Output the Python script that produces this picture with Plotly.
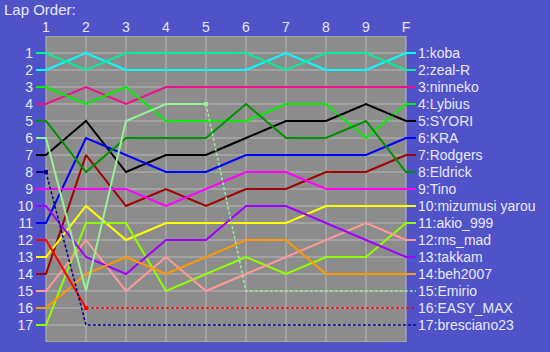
import plotly.graph_objects as go

laps = ["1", "2", "3", "4", "5", "6", "7", "8", "9", "F"]
drivers = ["koba", "zeal-R", "ninneko", "Lybius", "SYORI", "KRA", "Rodgers", "Eldrick",
           "Tino", "mizumusi yarou", "akio_999", "ms_mad", "takkam", "beh2007",
           "Emirio", "EASY_MAX", "bresciano23"]
colors = ["#00FFFF", "#00F0A0", "#F0108C", "#00F000", "#000000", "#0000FF", "#A00000",
          "#009000", "#FF00FF", "#FFFF00", "#90FF00", "#FF9A9A", "#A000FF", "#FF9900",
          "#98F098", "#FF0000", "#000090"]
# positions per lap (retired drivers have fewer completed laps)
positions = [
    [2, 1, 2, 2, 2, 2, 1, 2, 2, 1],
    [1, 2, 1, 1, 1, 1, 2, 1, 1, 2],
    [4, 3, 4, 3, 3, 3, 3, 3, 3, 3],
    [3, 4, 3, 5, 5, 5, 4, 4, 6, 4],
    [7, 5, 8, 7, 7, 6, 5, 5, 4, 5],
    [11, 6, 7, 8, 8, 7, 7, 7, 7, 6],
    [14, 7, 10, 9, 10, 9, 9, 8, 8, 7],
    [5, 8, 6, 6, 6, 4, 6, 6, 5, 8],
    [9, 9, 9, 10, 9, 8, 8, 9, 9, 9],
    [13, 10, 12, 11, 11, 11, 11, 10, 10, 10],
    [17, 11, 11, 15, 14, 13, 14, 13, 13, 11],
    [15, 12, 15, 13, 15, 14, 13, 12, 11, 12],
    [10, 13, 14, 12, 12, 10, 10, 11, 12, 13],
    [16, 14, 13, 14, 13, 12, 12, 14, 14, 14],
    [6, 15, 5, 4, 4],
    [12, 16],
    [8],
]
final_pos = list(range(1, 18))

BG = "#5052C8"
PLOT = "#8C8C8C"
GRID = "#B8B8B8"
TXT = "#E8E8FF"
FONT = "Liberation Sans, Arial, sans-serif"

n = len(laps)
lap_x = list(range(1, n + 1))
stub = 0.25

fig = go.Figure()

# plot background and grid (only over the lap area)
shapes = [dict(type="rect", xref="x", yref="y", x0=1, x1=n, y0=0, y1=len(drivers) + 1,
               fillcolor=PLOT, line=dict(color=GRID, width=1), layer="below")]
for r in final_pos:
    shapes.append(dict(type="line", xref="x", yref="y", x0=1, x1=n, y0=r, y1=r,
                       line=dict(color=GRID, width=1), layer="below"))
for c in lap_x[1:-1]:
    shapes.append(dict(type="line", xref="x", yref="y", x0=c, x1=c, y0=0, y1=len(drivers) + 1,
                       line=dict(color=GRID, width=1), layer="below"))

for i, name in enumerate(drivers):
    p = positions[i]
    col = colors[i]
    k = len(p)
    if k == n:
        xs = [1 - stub] + lap_x + [n + stub]
        ys = [p[0]] + p + [p[-1]]
        fig.add_trace(go.Scatter(x=xs, y=ys, mode="lines", line=dict(color=col, width=2),
                                 hoverinfo="skip", showlegend=False))
    else:
        xs = [1 - stub] + lap_x[:k]
        ys = [p[0]] + p
        fig.add_trace(go.Scatter(x=xs, y=ys, mode="lines", line=dict(color=col, width=2),
                                 hoverinfo="skip", showlegend=False))
        fig.add_trace(go.Scatter(x=[lap_x[k - 1]], y=[p[-1]], mode="markers",
                                 marker=dict(color=col, size=4, symbol="square"),
                                 hoverinfo="skip", showlegend=False))
        dx = lap_x[k - 1:] + [n + stub]
        dy = [p[-1]] + [final_pos[i]] * (n - k) + [final_pos[i]]
        fig.add_trace(go.Scatter(x=dx, y=dy, mode="lines",
                                 line=dict(color=col, width=1.5, dash="3px,2px"),
                                 hoverinfo="skip", showlegend=False))

annotations = []
for i, name in enumerate(drivers):
    annotations.append(dict(x=n + stub, y=final_pos[i], xref="x", yref="y",
                            text=f"{final_pos[i]}:{name}", showarrow=False,
                            xanchor="left", yanchor="middle", xshift=0,
                            font=dict(color=TXT, size=14, family=FONT)))

fig.update_layout(
    width=550, height=352,
    margin=dict(l=34, r=132, t=36, b=10),
    paper_bgcolor=BG, plot_bgcolor="rgba(0,0,0,0)",
    shapes=shapes, annotations=annotations,
    title=dict(text="Lap Order:", x=4 / 550, xanchor="left", xref="container",
               y=1 - 10 / 352, yanchor="middle", yref="container",
               font=dict(color=TXT, size=15, family=FONT)),
    xaxis=dict(range=[0.7, n + 0.3], side="top", tickvals=lap_x, ticktext=laps,
               showgrid=False, zeroline=False, showline=False, ticks="",
               tickfont=dict(color=TXT, size=14, family=FONT), fixedrange=True),
    yaxis=dict(range=[len(drivers) + 1, 0], tickvals=final_pos,
               ticktext=[str(v) for v in final_pos],
               showgrid=False, zeroline=False, showline=False, ticks="",
               tickfont=dict(color=TXT, size=14, family=FONT), fixedrange=True),
)

fig.write_html("out.html")
